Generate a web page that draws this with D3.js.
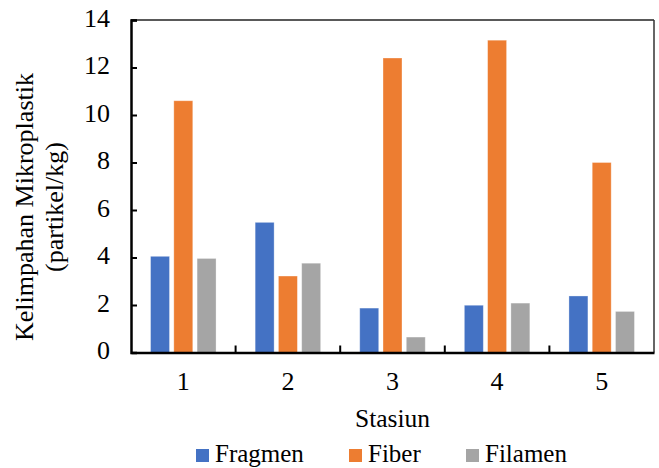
<!DOCTYPE html>
<html><head><meta charset="utf-8">
<script src="https://cdn.jsdelivr.net/npm/d3@7"></script>
<style>body{margin:0;background:#fff}svg{display:block}</style>
</head><body><svg id="c" width="659" height="468"></svg>
<script>
const categories = ["1","2","3","4","5"];
const seriesNames = ["Fragmen","Fiber","Filamen"];
const fragmen = [4.05, 5.48, 1.87, 1.99, 2.38];
const fiber = [10.6, 3.22, 12.4, 13.15, 8.0];
const filamen = [3.96, 3.76, 0.65, 2.08, 1.73];
const yTicks = [0,2,4,6,8,10,12,14];
const colors = ["#4472C4","#ED7D31","#A5A5A5"];

const FONT = '"Liberation Serif"';
const values = [fragmen, fiber, filamen];
const svg = d3.select("#c");
const L=131, R=654, T=20, B=352.5;
const x0 = d3.scaleBand().domain(categories).range([L,R]).paddingInner(0).paddingOuter(0);
const x1 = d3.scaleBand().domain(seriesNames).range([0,x0.bandwidth()]).paddingInner(0.185).paddingOuter(0.84);
const y = d3.scaleLinear().domain([0,14]).range([B,T]);

// bars
seriesNames.forEach((s,si)=>{
  svg.append("g").selectAll("rect").data(categories).join("rect")
    .attr("x",(c)=>x0(c)+x1(s))
    .attr("width",x1.bandwidth())
    .attr("y",(c,i)=>y(values[si][i]))
    .attr("height",(c,i)=>B-y(values[si][i]))
    .attr("fill",colors[si])
    .attr("stroke","#fff").attr("stroke-opacity",0.4).attr("stroke-width",0.8);
});

// frame top/right
svg.append("line").attr("x1",L).attr("x2",R).attr("y1",T).attr("y2",T).attr("stroke","#222").attr("stroke-width",1.5);
svg.append("line").attr("x1",R).attr("x2",R).attr("y1",T).attr("y2",B).attr("stroke","#333").attr("stroke-width",1.5);

// y axis
const ya = svg.append("g").attr("transform",`translate(${L},0)`)
  .call(d3.axisLeft(y).tickValues(yTicks).tickSize(-6).tickPadding(21).tickFormat(d3.format("d")));
ya.attr("font-family",null).attr("font-size",null);
ya.select(".domain").attr("stroke","#000").attr("stroke-width",2.5);
ya.selectAll(".tick line").attr("stroke","#000").attr("stroke-width",2);
ya.selectAll(".tick text").style("font-family",FONT).style("font-size","26px").attr("fill","#000").attr("dy","0.24em");

// x axis
const xa = svg.append("g").attr("transform",`translate(0,${B})`)
  .call(d3.axisBottom(x0).tickSize(0).tickPadding(19));
xa.attr("font-family",null).attr("font-size",null);
xa.select(".domain").attr("stroke","#000").attr("stroke-width",2.5);
xa.selectAll(".tick text").style("font-family",FONT).style("font-size","26px").attr("fill","#000");
// category boundary ticks
const bounds = categories.slice(1).map(c=>x0(c));
svg.append("g").selectAll("line").data(bounds).join("line")
  .attr("x1",d=>d).attr("x2",d=>d).attr("y1",B).attr("y2",B-7)
  .attr("stroke","#000").attr("stroke-width",2);

// axis titles
svg.append("text").attr("x",(L+R)/2).attr("y",427).attr("text-anchor","middle")
  .style("font-family",FONT).style("font-size","25.5px").text("Stasiun");
const yt = svg.append("text").attr("transform","translate(0,207) rotate(-90)").attr("text-anchor","middle")
  .style("font-family",FONT).style("font-size","26px");
yt.append("tspan").attr("x",0).attr("y",33).text("Kelimpahan Mikroplastik");
yt.append("tspan").attr("x",0).attr("y",63).text("(partikel/kg)");

// legend
const legX = [196, 349, 466];
const lg = svg.append("g").selectAll("g").data(seriesNames).join("g")
  .attr("transform",(d,i)=>`translate(${legX[i]},449)`);
lg.append("rect").attr("width",13).attr("height",13).attr("fill",(d,i)=>colors[i]);
lg.append("text").attr("x",19).attr("y",12.5).style("font-family",FONT).style("font-size","25px").text(d=>d);
</script></body></html>
